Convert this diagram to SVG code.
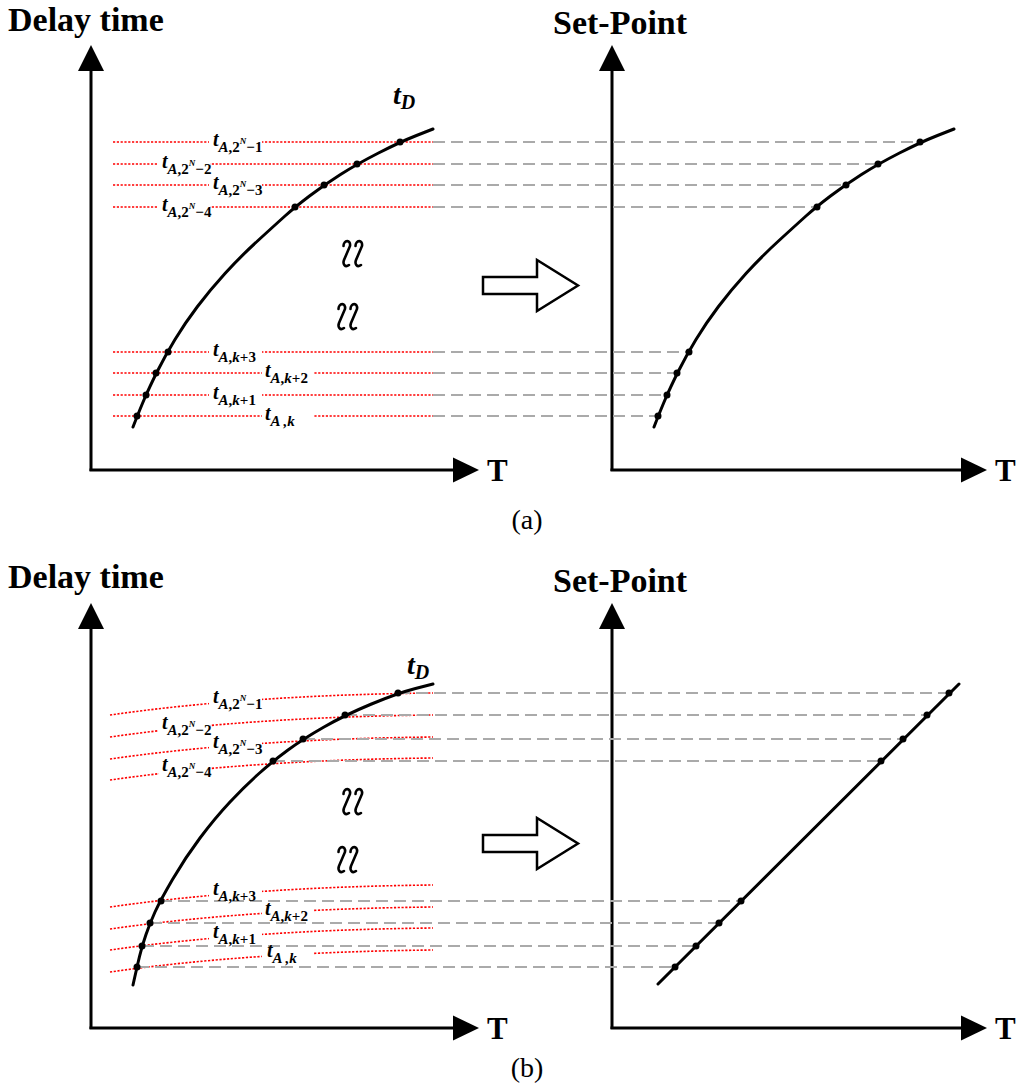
<svg xmlns="http://www.w3.org/2000/svg" width="1024" height="1089" viewBox="0 0 1024 1089">
<style>
.ax{stroke:#000;stroke-width:3;fill:none}
.ah{fill:#000;stroke:none}
.red{stroke:#ff0000;stroke-width:1.6;stroke-dasharray:2.2 1.6;fill:none}
.gry{stroke:#aaaaaa;stroke-width:2;stroke-dasharray:12 6;fill:none}
.crv{stroke:#000;stroke-width:3;fill:none;stroke-linejoin:round;stroke-linecap:round}
.bg{fill:#fff;stroke:none}
.dot{fill:#000}
.big{font-family:"Liberation Serif","Times New Roman",serif;font-weight:bold;font-size:34px;fill:#000}
.cap{font-family:"Liberation Serif","Times New Roman",serif;font-size:28px;fill:#000}
.lb{font-family:"Liberation Serif","Times New Roman",serif;font-weight:bold;font-style:italic;fill:#000;font-size:20px}
.sb{font-size:15px}
.sn{font-size:15px;font-style:normal}
.sp{font-size:9px}
.harrow{fill:#fff;stroke:#000;stroke-width:2.5;stroke-linejoin:miter}
.sq{stroke:#000;stroke-width:2.6;fill:none;stroke-linecap:round}
</style>
<defs>
<g id="squig">
<path class="sq" d="M1.5,7 C1.5,1 9,0 8,7 L2,21 C0.5,25 3,29 7,26"/>
<path class="sq" d="M13.5,7 C13.5,1 21,0 20,7 L14,21 C12.5,25 15,29 19,26"/>
</g>
<path id="curveA" d="M133,427 Q140,409 145,397.5 Q150,386 157.5,371 Q165,356 175,339.5 Q185,323 197.5,306.5 Q210,290 225,273.5 Q240,257 257.5,241 Q275,225 285,216 Q295,207 309.5,196 Q324,185 340.5,174.5 Q357,164 378.5,153 Q400,142 416.5,135.5 L433,129"/>
</defs>

<!-- ===== Panel (a) ===== -->
<g id="axes-a">
<line class="ax" x1="91" y1="471" x2="91" y2="62"/>
<polygon class="ah" points="91,45 78,71 104,71"/>
<line class="ax" x1="89.5" y1="470" x2="460" y2="470"/>
<polygon class="ah" points="479,470 453,457.5 453,482.5"/>
<line class="ax" x1="612" y1="471" x2="612" y2="62"/>
<polygon class="ah" points="612,45 599,71 625,71"/>
<line class="ax" x1="610.5" y1="470" x2="968" y2="470"/>
<polygon class="ah" points="987,470 961,457.5 961,482.5"/>
<text class="big" x="8" y="31">Delay time</text>
<text class="big" x="553" y="34">Set-Point</text>
<text class="big" x="487" y="481" style="font-size:31px">T</text>
<text class="big" x="995" y="481" style="font-size:31px">T</text>
<text class="cap" x="527" y="529" text-anchor="middle">(a)</text>
</g>

<g id="guides-a">
<line class="red" x1="113" y1="142" x2="433" y2="142"/>
<line class="red" x1="113" y1="164" x2="433" y2="164"/>
<line class="red" x1="113" y1="185" x2="433" y2="185"/>
<line class="red" x1="113" y1="207" x2="433" y2="207"/>
<line class="red" x1="113" y1="352" x2="433" y2="352"/>
<line class="red" x1="113" y1="373" x2="433" y2="373"/>
<line class="red" x1="113" y1="395" x2="433" y2="395"/>
<line class="red" x1="113" y1="416" x2="433" y2="416"/>
<rect class="bg" x="209" y="138" width="53" height="8"/>
<rect class="bg" x="157" y="160" width="53" height="8"/>
<rect class="bg" x="209" y="181" width="53" height="8"/>
<rect class="bg" x="157" y="203" width="53" height="8"/>
<rect class="bg" x="209" y="348" width="53" height="8"/>
<rect class="bg" x="262" y="369" width="51" height="8"/>
<rect class="bg" x="209" y="391" width="53" height="8"/>
<rect class="bg" x="262" y="412" width="51" height="8"/>
</g>

<g id="connectors-a">
<line class="gry" x1="433" y1="142" x2="920" y2="142"/>
<line class="gry" x1="433" y1="164" x2="878" y2="164"/>
<line class="gry" x1="433" y1="185" x2="846" y2="185"/>
<line class="gry" x1="433" y1="207" x2="817" y2="207"/>
<line class="gry" x1="433" y1="352" x2="689" y2="352"/>
<line class="gry" x1="433" y1="373" x2="677" y2="373"/>
<line class="gry" x1="433" y1="395" x2="667" y2="395"/>
<line class="gry" x1="433" y1="416" x2="658" y2="416"/>
</g>

<g id="curve-a-left">
<use href="#curveA" class="crv"/>
<circle class="dot" cx="400" cy="142" r="3.5"/>
<circle class="dot" cx="357" cy="164" r="3.5"/>
<circle class="dot" cx="324" cy="185" r="3.5"/>
<circle class="dot" cx="295" cy="207" r="3.5"/>
<circle class="dot" cx="168" cy="352" r="3.5"/>
<circle class="dot" cx="156" cy="373" r="3.5"/>
<circle class="dot" cx="146" cy="395" r="3.5"/>
<circle class="dot" cx="137" cy="416" r="3.5"/>
<text class="lb" x="393" y="104" style="font-size:28px">t<tspan dy="5" style="font-size:20px">D</tspan></text>
</g>

<g id="curve-a-right">
<use href="#curveA" class="crv" transform="translate(521,0)"/>
<circle class="dot" cx="920" cy="142" r="3.5"/>
<circle class="dot" cx="878" cy="164" r="3.5"/>
<circle class="dot" cx="846" cy="185" r="3.5"/>
<circle class="dot" cx="817" cy="207" r="3.5"/>
<circle class="dot" cx="689" cy="352" r="3.5"/>
<circle class="dot" cx="677" cy="373" r="3.5"/>
<circle class="dot" cx="667" cy="395" r="3.5"/>
<circle class="dot" cx="658" cy="416" r="3.5"/>
</g>

<g id="labels-a">
<text class="lb" x="213" y="146">t<tspan class="sb" dy="6">A</tspan><tspan class="sn">,2</tspan><tspan class="sp" dy="-8">N</tspan><tspan class="sn" dy="8">−1</tspan></text>
<text class="lb" x="162" y="168">t<tspan class="sb" dy="6">A</tspan><tspan class="sn">,2</tspan><tspan class="sp" dy="-8">N</tspan><tspan class="sn" dy="8">−2</tspan></text>
<text class="lb" x="213" y="189">t<tspan class="sb" dy="6">A</tspan><tspan class="sn">,2</tspan><tspan class="sp" dy="-8">N</tspan><tspan class="sn" dy="8">−3</tspan></text>
<text class="lb" x="162" y="211">t<tspan class="sb" dy="6">A</tspan><tspan class="sn">,2</tspan><tspan class="sp" dy="-8">N</tspan><tspan class="sn" dy="8">−4</tspan></text>
<text class="lb" x="213" y="356">t<tspan class="sb" dy="6">A</tspan><tspan class="sn">,</tspan><tspan class="sb">k</tspan><tspan class="sn">+3</tspan></text>
<text class="lb" x="265" y="377">t<tspan class="sb" dy="6">A</tspan><tspan class="sn">,</tspan><tspan class="sb">k</tspan><tspan class="sn">+2</tspan></text>
<text class="lb" x="213" y="399">t<tspan class="sb" dy="6">A</tspan><tspan class="sn">,</tspan><tspan class="sb">k</tspan><tspan class="sn">+1</tspan></text>
<text class="lb" x="265" y="420">t<tspan class="sb" dy="6" xml:space="preserve">A ,</tspan><tspan class="sb">k</tspan></text>
</g>

<g id="breaks-a">
<use href="#squig" transform="translate(342,239)"/>
<use href="#squig" transform="translate(337,302)"/>
</g>
<g id="arrow-a">
<path class="harrow" d="M483,277 L537,277 L537,260 L578,285.5 L537,311 L537,294 L483,294 Z"/>
</g>

<!-- ===== Panel (b) ===== -->
<g id="axes-b">
<line class="ax" x1="91" y1="1029" x2="91" y2="620"/>
<polygon class="ah" points="91,603 78,629 104,629"/>
<line class="ax" x1="89.5" y1="1028" x2="460" y2="1028"/>
<polygon class="ah" points="479,1028 453,1015.5 453,1040.5"/>
<line class="ax" x1="612" y1="1029" x2="612" y2="620"/>
<polygon class="ah" points="612,603 599,629 625,629"/>
<line class="ax" x1="610.5" y1="1028" x2="968" y2="1028"/>
<polygon class="ah" points="987,1028 961,1015.5 961,1040.5"/>
<text class="big" x="8" y="588">Delay time</text>
<text class="big" x="553" y="592">Set-Point</text>
<text class="big" x="487" y="1039" style="font-size:31px">T</text>
<text class="big" x="995" y="1039" style="font-size:31px">T</text>
<text class="cap" x="527" y="1077" text-anchor="middle">(b)</text>
</g>

<g id="guides-b">
<path class="red" d="M110,715 Q250,695 433,693"/>
<path class="red" d="M110,737 Q250,717 433,715"/>
<path class="red" d="M110,759 Q250,739 433,737"/>
<path class="red" d="M110,780 Q250,760 433,758"/>
<path class="red" d="M110,907 Q250,887 433,885"/>
<path class="red" d="M110,929 Q250,909 433,907"/>
<path class="red" d="M110,950 Q250,930 433,928"/>
<path class="red" d="M110,972 Q250,952 433,950"/>
<rect class="bg" x="209" y="696" width="53" height="12"/>
<rect class="bg" x="158" y="721" width="52" height="13"/>
<rect class="bg" x="209" y="740" width="53" height="12"/>
<rect class="bg" x="159" y="764" width="51" height="13"/>
<rect class="bg" x="209" y="888" width="53" height="12"/>
<rect class="bg" x="262" y="907" width="51" height="10"/>
<rect class="bg" x="209" y="931" width="53" height="12"/>
<rect class="bg" x="262" y="950" width="51" height="10"/>
</g>

<g id="connectors-b">
<line class="gry" x1="398" y1="693" x2="949" y2="693"/>
<line class="gry" x1="345" y1="715" x2="927" y2="715"/>
<line class="gry" x1="303" y1="739" x2="903" y2="739"/>
<line class="gry" x1="273" y1="761" x2="881" y2="761"/>
<line class="gry" x1="160" y1="901" x2="741" y2="901"/>
<line class="gry" x1="150" y1="923" x2="719" y2="923"/>
<line class="gry" x1="142" y1="946" x2="696" y2="946"/>
<line class="gry" x1="137" y1="967" x2="675" y2="967"/>
</g>

<g id="curve-b-left">
<path class="crv" d="M133,985 Q137,967 139.5,956.5 Q142,946 146,934.5 Q150,923 155,912 Q160,901 172.5,879.5 Q185,858 200,838 Q215,818 230,802 Q245,786 259,773.5 Q273,761 288,750 Q303,739 324,727 Q345,715 371.5,704 Q398,693 415.5,688.5 L433,684"/>
<circle class="dot" cx="398" cy="693" r="3.5"/>
<circle class="dot" cx="345" cy="715" r="3.5"/>
<circle class="dot" cx="303" cy="739" r="3.5"/>
<circle class="dot" cx="273" cy="761" r="3.5"/>
<circle class="dot" cx="161" cy="901" r="3.5"/>
<circle class="dot" cx="150" cy="923" r="3.5"/>
<circle class="dot" cx="142" cy="946" r="3.5"/>
<circle class="dot" cx="137" cy="967" r="3.5"/>
<text class="lb" x="407" y="674" style="font-size:28px">t<tspan dy="5" style="font-size:20px">D</tspan></text>
</g>

<g id="line-b-right">
<line class="crv" x1="658" y1="984" x2="959" y2="684"/>
<circle class="dot" cx="949" cy="693" r="3.5"/>
<circle class="dot" cx="927" cy="715" r="3.5"/>
<circle class="dot" cx="903" cy="739" r="3.5"/>
<circle class="dot" cx="881" cy="761" r="3.5"/>
<circle class="dot" cx="741" cy="901" r="3.5"/>
<circle class="dot" cx="719" cy="923" r="3.5"/>
<circle class="dot" cx="696" cy="946" r="3.5"/>
<circle class="dot" cx="675" cy="967" r="3.5"/>
</g>

<g id="labels-b">
<text class="lb" x="213" y="703">t<tspan class="sb" dy="6">A</tspan><tspan class="sn">,2</tspan><tspan class="sp" dy="-8">N</tspan><tspan class="sn" dy="8">−1</tspan></text>
<text class="lb" x="162" y="729">t<tspan class="sb" dy="6">A</tspan><tspan class="sn">,2</tspan><tspan class="sp" dy="-8">N</tspan><tspan class="sn" dy="8">−2</tspan></text>
<text class="lb" x="213" y="748">t<tspan class="sb" dy="6">A</tspan><tspan class="sn">,2</tspan><tspan class="sp" dy="-8">N</tspan><tspan class="sn" dy="8">−3</tspan></text>
<text class="lb" x="162" y="771">t<tspan class="sb" dy="6">A</tspan><tspan class="sn">,2</tspan><tspan class="sp" dy="-8">N</tspan><tspan class="sn" dy="8">−4</tspan></text>
<text class="lb" x="213" y="895">t<tspan class="sb" dy="6">A</tspan><tspan class="sn">,</tspan><tspan class="sb">k</tspan><tspan class="sn">+3</tspan></text>
<text class="lb" x="265" y="915">t<tspan class="sb" dy="6">A</tspan><tspan class="sn">,</tspan><tspan class="sb">k</tspan><tspan class="sn">+2</tspan></text>
<text class="lb" x="213" y="938">t<tspan class="sb" dy="6">A</tspan><tspan class="sn">,</tspan><tspan class="sb">k</tspan><tspan class="sn">+1</tspan></text>
<text class="lb" x="267" y="957">t<tspan class="sb" dy="6" xml:space="preserve">A ,</tspan><tspan class="sb">k</tspan></text>
</g>

<g id="breaks-b">
<use href="#squig" transform="translate(342,787)"/>
<use href="#squig" transform="translate(337,845)"/>
</g>
<g id="arrow-b">
<path class="harrow" d="M483,835 L537,835 L537,818 L578,843.5 L537,869 L537,852 L483,852 Z"/>
</g>
</svg>
